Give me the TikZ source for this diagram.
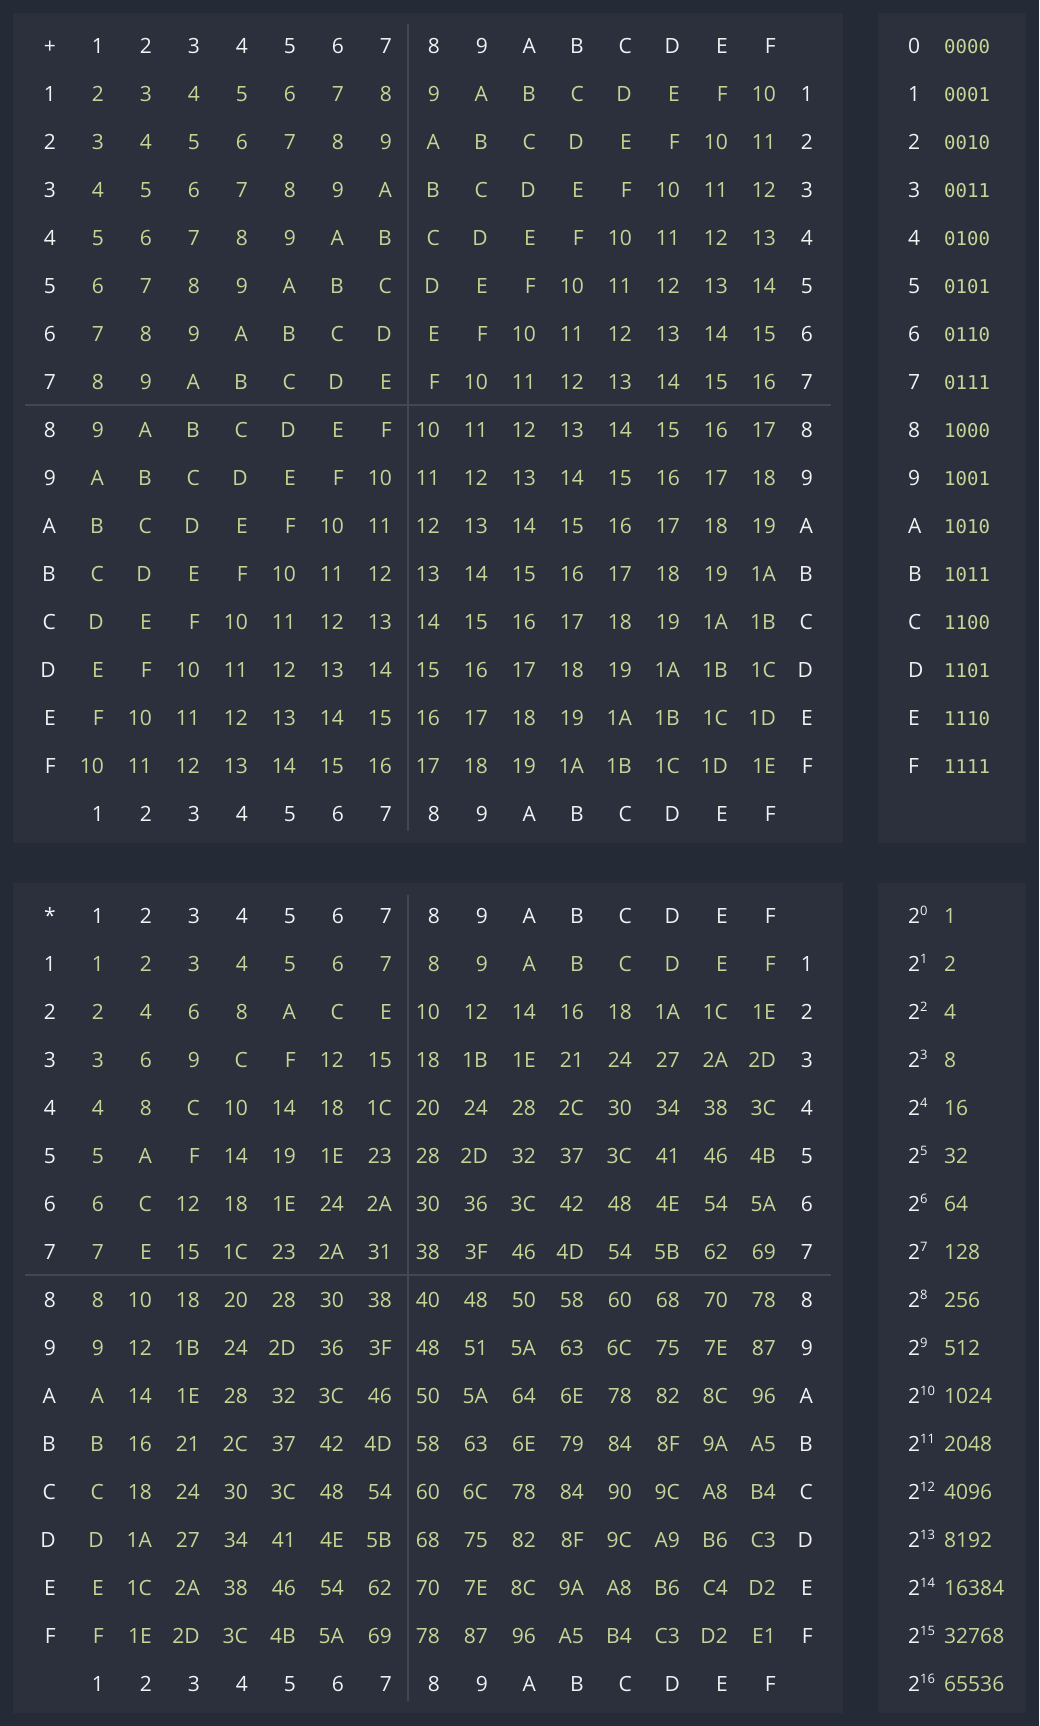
\documentclass[tikz,border=0pt]{standalone}
\usepackage{fontspec}
\setmainfont{Open Sans}
\newfontfamily\binfont{DejaVu Sans Mono}
\definecolor{pagebg}{RGB}{37,42,55}
\definecolor{panelbg}{RGB}{43,48,60}
\definecolor{rulecol}{RGB}{66,71,83}
\definecolor{valgreen}{RGB}{196,214,150}
\definecolor{labwhite}{RGB}{242,242,242}
\tikzset{
  panel/.style={fill=panelbg},
  sepline/.style={draw=rulecol, line width=1.5pt},
  cell/.style={anchor=base east, inner sep=0pt, text=valgreen, font=\fontsize{21}{21}\selectfont},
  lab/.style={cell, text=labwhite},
  binval/.style={anchor=base west, inner sep=0pt, text=valgreen, font=\binfont\fontsize{19}{19}\selectfont},
}
\begin{document}
\begin{tikzpicture}[x=1pt, y=-1pt]
  \fill[pagebg] (0,0) rectangle (1039,1726);
  \useasboundingbox (0,0) rectangle (1039,1726);
  % panels
  \fill[panel] (13,13) rectangle (843,843);
  \fill[panel] (878,13) rectangle (1026,843);
  \fill[panel] (13,883) rectangle (843,1713);
  \fill[panel] (878,883) rectangle (1026,1713);
  \draw[sepline] (408,24) -- (408,831);
  \draw[sepline] (25,405) -- (831,405);
  \draw[sepline] (408,895) -- (408,1701);
  \draw[sepline] (25,1275) -- (831,1275);

  % addition table
  \node[lab] (add-0-0) at (56,53.5) {+};
  \foreach \c in {1,...,15} {
    \pgfmathdectoBase\colhex{\c}{16}
    \node[lab] (add-0-\c) at (56+48*\c, 53.5) {\colhex};
    \node[lab] (add-16-\c) at (56+48*\c, 53.5+48*16) {\colhex};
  }
  \foreach \r in {1,...,15} {
    \pgfmathdectoBase\rowhex{\r}{16}
    \node[lab] (add-\r-0) at (56, 53.5+48*\r) {\rowhex};
    \node[lab] (add-\r-16) at (813, 53.5+48*\r) {\rowhex};
    \foreach \c in {1,...,15} {
      \pgfmathtruncatemacro\sumdec{\r+\c}
      \pgfmathdectoBase\sumhex{\sumdec}{16}
      \node[cell] (add-\r-\c) at (56+48*\c, 53.5+48*\r) {\sumhex};
    }
  }

  % multiplication table
  \node[lab] (mul-0-0) at (56,923.5) {*};
  \foreach \c in {1,...,15} {
    \pgfmathdectoBase\colhex{\c}{16}
    \node[lab] (mul-0-\c) at (56+48*\c, 923.5) {\colhex};
    \node[lab] (mul-16-\c) at (56+48*\c, 923.5+48*16) {\colhex};
  }
  \foreach \r in {1,...,15} {
    \pgfmathdectoBase\rowhex{\r}{16}
    \node[lab] (mul-\r-0) at (56, 923.5+48*\r) {\rowhex};
    \node[lab] (mul-\r-16) at (813, 923.5+48*\r) {\rowhex};
    \foreach \c in {1,...,15} {
      \pgfmathtruncatemacro\proddec{\r*\c}
      \pgfmathdectoBase\prodhex{\proddec}{16}
      \node[cell] (mul-\r-\c) at (56+48*\c, 923.5+48*\r) {\prodhex};
    }
  }

  % binary digits
  \foreach \b [count=\i from 0] in {0000,0001,0010,0011,0100,0101,0110,0111,
      1000,1001,1010,1011,1100,1101,1110,1111} {
    \pgfmathdectoBase\binhex{\i}{16}
    \node[lab, anchor=base west] (bin-\i) at (908, 53.5+48*\i) {\binhex};
    \node[binval] (binv-\i) at (944, 53.5+48*\i) {\b};
  }

  % powers of two
  \foreach \v [count=\i from 0] in {1,2,4,8,16,32,64,128,256,512,1024,2048,
      4096,8192,16384,32768,65536} {
    \node[lab, anchor=base west] (pow-\i) at (908, 923.5+48*\i)
      {2\raisebox{8pt}{\fontsize{13}{13}\selectfont\i}};
    \node[cell, anchor=base west] (powv-\i) at (944, 923.5+48*\i) {\v};
  }
\end{tikzpicture}
\end{document}
